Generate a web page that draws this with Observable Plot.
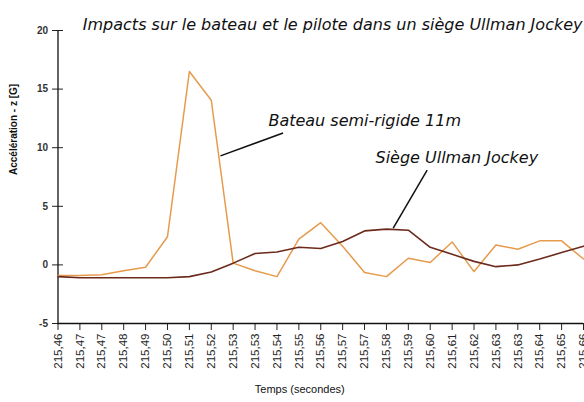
<!DOCTYPE html>
<html>
<head>
<meta charset="utf-8">
<script src="https://cdn.jsdelivr.net/npm/d3@7"></script>
<script src="https://cdn.jsdelivr.net/npm/@observablehq/plot@0.6"></script>
<style>
  html, body { margin: 0; padding: 0; background: #fff; }
  #chart svg { display: block; }
</style>
</head>
<body>
<div id="chart"></div>
<script>
const timeLabels = ["215,46","215,47","215,47","215,48","215,49","215,50","215,51","215,52","215,53","215,53","215,54","215,55","215,56","215,57","215,57","215,58","215,59","215,60","215,61","215,62","215,63","215,63","215,64","215,65","215,66"];
const bateau = [-0.9,-0.9,-0.85,-0.5,-0.2,2.4,16.5,14.05,0.15,-0.5,-1.0,2.2,3.6,1.6,-0.65,-1.0,0.57,0.2,1.96,-0.57,1.7,1.34,2.05,2.05,0.5];
const siege = [-1.0,-1.1,-1.1,-1.1,-1.1,-1.1,-1.0,-0.6,0.15,0.97,1.1,1.5,1.4,2.0,2.9,3.05,2.96,1.5,0.9,0.3,-0.15,0.0,0.5,1.05,1.6];
const yTicks = [-5, 0, 5, 10, 15, 20];
const title = "Impacts sur le bateau et le pilote dans un siège Ullman Jockey";
const annotations = [
  {text: "Bateau semi-rigide 11m", x: 9.61, y: 12.25, x1: 10.28, y1: 11.26, x2: 7.42, y2: 9.3},
  {text: "Siège Ullman Jockey", x: 14.5, y: 9.1, x1: 16.86, y1: 8.08, x2: 15.31, y2: 3.13}
];

const idx = d3.range(timeLabels.length);
const rowsB = idx.map(i => ({i, v: bateau[i]}));
const rowsS = idx.map(i => ({i, v: siege[i]}));

const sans = "'Liberation Sans', Arial, sans-serif";
const ital = "'DejaVu Sans', Verdana, sans-serif";

const chart = Plot.plot({
  width: 584,
  height: 402,
  marginLeft: 57.5,
  marginRight: 1,
  marginTop: 30,
  marginBottom: 79,
  style: {fontFamily: sans, background: "#fff", overflow: "visible"},
  x: {domain: [0, 24], axis: null},
  y: {domain: [-5, 20], axis: null},
  marks: [
    Plot.axisX({ticks: idx, tickFormat: i => timeLabels[i], tickRotate: -90, tickSize: 7, tickPadding: 3, fontSize: 11.5, fill: "#222", stroke: "#222", label: null}),
    Plot.axisY({ticks: yTicks, tickFormat: d => String(d), tickSize: 0, tickPadding: 10, fontSize: 10, fontWeight: "bold", fill: "#333", label: null}),
    Plot.ruleY(yTicks, {x1: -0.25, x2: 0.25, stroke: "#222", strokeWidth: 1}),
    Plot.ruleX([0], {stroke: "#111", strokeWidth: 1.3}),
    Plot.ruleY([-5], {stroke: "#111", strokeWidth: 1.3}),
    Plot.line(rowsB, {x: "i", y: "v", stroke: "#e69a4c", strokeWidth: 1.5}),
    Plot.line(rowsS, {x: "i", y: "v", stroke: "#6b2a1c", strokeWidth: 1.6}),
    Plot.link(annotations, {x1: "x1", y1: "y1", x2: "x2", y2: "y2", stroke: "#111", strokeWidth: 1.5}),
    Plot.text(annotations, {x: "x", y: "y", text: "text", textAnchor: "start", fontSize: 16, fontStyle: "italic", fontFamily: ital, fill: "#111"}),
    Plot.text([title], {text: d => d, frameAnchor: "top-right", dy: -12, dx: -1, textAnchor: "end", fontSize: 16, fontStyle: "italic", fontFamily: ital, fill: "#111"}),
    Plot.text(["Temps (secondes)"], {text: d => d, frameAnchor: "bottom", dy: 69, dx: -21, fontSize: 11, fill: "#111"}),
    Plot.text(["Accélération - z [G]"], {text: d => d, frameAnchor: "left", rotate: -90, dx: -44, dy: -2, fontSize: 10, fontWeight: "bold", fill: "#111"})
  ]
});
document.getElementById("chart").appendChild(chart);
</script>
</body>
</html>
